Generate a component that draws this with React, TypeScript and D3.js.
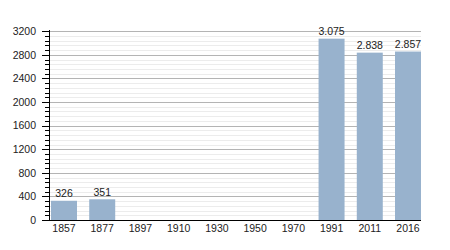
import React, { useEffect, useRef } from "react";
import * as d3 from "d3";

const years = ["1857", "1877", "1897", "1910", "1930", "1950", "1970", "1991", "2011", "2016"];
const population: (number | null)[] = [326, 351, null, null, null, null, null, 3075, 2838, 2857];
const yTicks = [0, 400, 800, 1200, 1600, 2000, 2400, 2800, 3200];

const W = 450;
const H = 250;
const FONT = "'Liberation Sans', Arial, sans-serif";

export default function App() {
  const ref = useRef<SVGSVGElement>(null);

  useEffect(() => {
    const svg = d3.select(ref.current);
    svg.selectAll("*").remove();

    const left = 49;
    const right = 421;
    const y = d3.scaleLinear().domain([0, 3200]).range([220, 31.3]);
    const x = d3.scaleBand<string>().domain(years).range([51, 421]).paddingInner(0.32).paddingOuter(0);

    const minor = d3.range(0, 3200 + 1, 80).filter((v) => v % 400 !== 0);

    // minor grid
    svg.append("g").selectAll("line").data(minor).join("line")
      .attr("x1", left).attr("x2", right)
      .attr("y1", (d) => Math.round(y(d)) + 0.5).attr("y2", (d) => Math.round(y(d)) + 0.5)
      .attr("stroke", "#ececec").attr("stroke-width", 1);
    // major grid
    svg.append("g").selectAll("line").data(yTicks.filter((v) => v > 0)).join("line")
      .attr("x1", left).attr("x2", right)
      .attr("y1", (d) => Math.round(y(d)) + 0.5).attr("y2", (d) => Math.round(y(d)) + 0.5)
      .attr("stroke", "#b4b4b4").attr("stroke-width", 1);

    // bars
    const data = years.map((yr, i) => ({ yr, v: population[i] })).filter((d) => d.v != null) as { yr: string; v: number }[];
    svg.append("g").selectAll("rect").data(data).join("rect")
      .attr("x", (d) => x(d.yr)!)
      .attr("width", x.bandwidth())
      .attr("y", (d) => y(d.v))
      .attr("height", (d) => y(0) - y(d.v))
      .attr("fill", "#98b2cd");

    // value labels
    const fmt = (v: number) => d3.format(",")(v).replace(/,/g, ".");
    svg.append("g").selectAll("text").data(data).join("text")
      .attr("x", (d) => x(d.yr)! + x.bandwidth() / 2)
      .attr("y", (d) => y(d.v) - 3.5)
      .attr("text-anchor", "middle")
      .attr("font-family", FONT).attr("font-size", 10.5).attr("fill", "#222")
      .text((d) => fmt(d.v));

    // y axis
    const yAxis = svg.append("g");
    yAxis.append("line").attr("x1", left + 0.5).attr("x2", left + 0.5).attr("y1", 30).attr("y2", 220)
      .attr("stroke", "#000");
    yAxis.selectAll("line.minor").data(minor).join("line").attr("class", "minor")
      .attr("x1", left - 4).attr("x2", left)
      .attr("y1", (d) => Math.round(y(d)) + 0.5).attr("y2", (d) => Math.round(y(d)) + 0.5)
      .attr("stroke", "#000");
    yAxis.selectAll("line.major").data(yTicks).join("line").attr("class", "major")
      .attr("x1", left - 7).attr("x2", left)
      .attr("y1", (d) => Math.round(y(d)) + 0.5).attr("y2", (d) => Math.round(y(d)) + 0.5)
      .attr("stroke", "#000");
    yAxis.selectAll("text").data(yTicks).join("text")
      .attr("x", 36).attr("y", (d) => y(d) + 3.8)
      .attr("text-anchor", "end")
      .attr("font-family", FONT).attr("font-size", 10.5).attr("fill", "#222")
      .text((d) => String(d));

    // x axis
    const xAxis = svg.append("g");
    xAxis.append("line").attr("x1", left).attr("x2", right).attr("y1", 220.5).attr("y2", 220.5)
      .attr("stroke", "#000");
    xAxis.selectAll("text").data(years).join("text")
      .attr("x", (d) => x(d)! + x.bandwidth() / 2)
      .attr("y", 232)
      .attr("text-anchor", "middle")
      .attr("font-family", FONT).attr("font-size", 10.5).attr("fill", "#222")
      .text((d) => d);
  }, []);

  return (
    <svg ref={ref} width={W} height={H} style={{ position: "absolute", left: 0, top: 0, background: "#fff" }} />
  );
}
